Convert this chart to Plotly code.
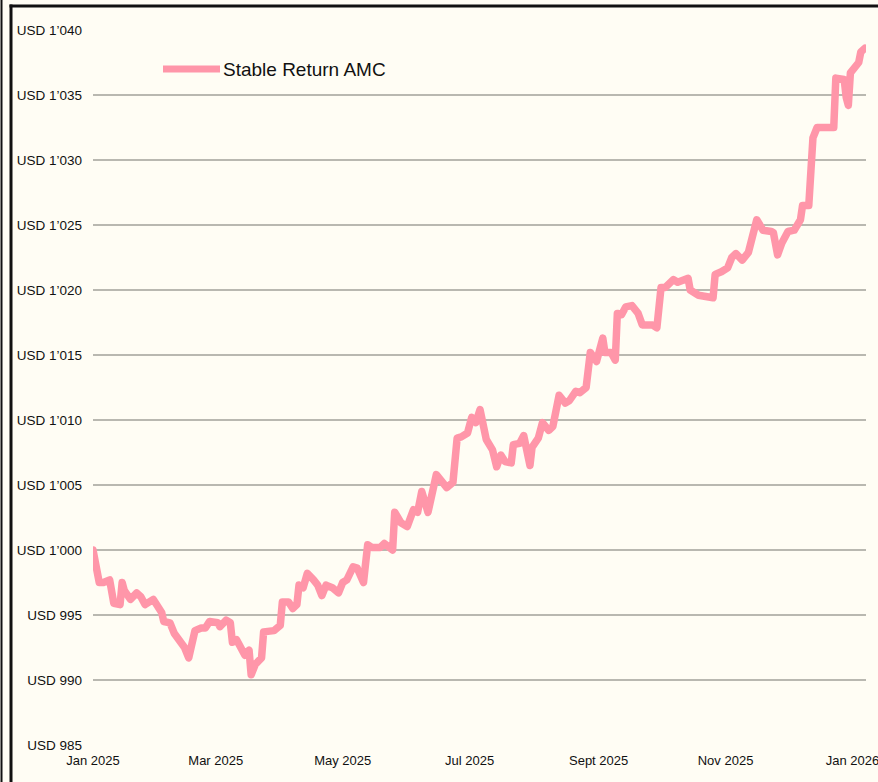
import plotly.graph_objects as go

series_name = "Stable Return AMC"

dates = [
    "2025-01-01", "2025-01-04", "2025-01-06", "2025-01-09", "2025-01-11", "2025-01-14",
    "2025-01-15", "2025-01-16", "2025-01-19", "2025-01-22", "2025-01-24", "2025-01-26",
    "2025-01-30", "2025-02-01", "2025-02-03", "2025-02-04", "2025-02-07", "2025-02-09",
    "2025-02-11", "2025-02-12", "2025-02-14", "2025-02-16", "2025-02-19", "2025-02-22",
    "2025-02-24", "2025-02-26", "2025-03-02", "2025-03-03", "2025-03-06", "2025-03-08",
    "2025-03-09", "2025-03-11", "2025-03-14", "2025-03-15", "2025-03-17", "2025-03-18",
    "2025-03-20", "2025-03-23", "2025-03-24", "2025-03-27", "2025-03-29", "2025-04-01",
    "2025-04-02", "2025-04-05", "2025-04-07", "2025-04-09", "2025-04-10", "2025-04-12",
    "2025-04-14", "2025-04-17", "2025-04-19", "2025-04-21", "2025-04-23", "2025-04-26",
    "2025-04-29", "2025-05-01", "2025-05-03", "2025-05-06", "2025-05-08", "2025-05-11",
    "2025-05-13", "2025-05-15", "2025-05-19", "2025-05-21", "2025-05-25", "2025-05-26",
    "2025-05-29", "2025-06-01", "2025-06-04", "2025-06-06", "2025-06-08", "2025-06-11",
    "2025-06-12", "2025-06-15", "2025-06-18", "2025-06-20", "2025-06-23", "2025-06-25",
    "2025-06-27", "2025-06-30", "2025-07-02", "2025-07-04", "2025-07-06", "2025-07-09",
    "2025-07-12", "2025-07-14", "2025-07-16", "2025-07-18", "2025-07-21", "2025-07-22",
    "2025-07-25", "2025-07-27", "2025-07-30", "2025-07-31", "2025-08-03", "2025-08-05",
    "2025-08-08", "2025-08-10", "2025-08-13", "2025-08-16", "2025-08-18", "2025-08-21",
    "2025-08-23", "2025-08-26", "2025-08-28", "2025-08-31", "2025-09-03", "2025-09-04",
    "2025-09-07", "2025-09-09", "2025-09-10", "2025-09-12", "2025-09-14", "2025-09-17",
    "2025-09-20", "2025-09-22", "2025-09-25", "2025-09-27", "2025-09-29", "2025-10-01",
    "2025-10-03", "2025-10-07", "2025-10-09", "2025-10-14", "2025-10-15", "2025-10-19",
    "2025-10-26", "2025-10-27", "2025-10-30", "2025-11-02", "2025-11-04", "2025-11-06",
    "2025-11-09", "2025-11-12", "2025-11-16", "2025-11-19", "2025-11-23", "2025-11-24",
    "2025-11-26", "2025-11-28", "2025-12-01", "2025-12-04", "2025-12-07", "2025-12-08",
    "2025-12-11", "2025-12-13", "2025-12-15", "2025-12-18", "2025-12-23", "2025-12-24",
    "2025-12-28", "2025-12-29", "2025-12-30", "2025-12-31", "2026-01-01", "2026-01-04",
    "2026-01-05", "2026-01-07",
]

values = [
    1000.0, 997.5, 997.5, 997.7, 995.9, 995.8,
    997.5, 996.9, 996.2, 996.7, 996.4, 995.8,
    996.2, 995.8, 995.2, 994.5, 994.4, 993.6,
    993.2, 992.8, 992.5, 991.7, 993.8, 994.0,
    994.0, 994.5, 994.4, 994.1, 994.6, 994.4,
    992.9, 993.1, 992.3, 991.9, 992.3, 990.4,
    991.2, 991.7, 993.7, 993.8, 993.8, 994.2,
    996.0, 996.0, 995.5, 995.8, 997.3, 997.1,
    998.2, 997.7, 997.3, 996.5, 997.3, 997.1,
    996.7, 997.5, 997.7, 998.7, 998.6, 997.5,
    1000.4, 1000.2, 1000.2, 1000.5, 1000.0, 1002.9,
    1002.1, 1001.8, 1003.1, 1002.9, 1004.5, 1002.9,
    1003.8, 1005.8, 1005.2, 1004.8, 1005.2, 1008.6,
    1008.7, 1009.0, 1010.2, 1009.8, 1010.8, 1008.5,
    1007.7, 1006.4, 1007.3, 1006.8, 1006.7, 1008.1,
    1008.2, 1008.8, 1006.5, 1007.9, 1008.6, 1009.8,
    1009.2, 1009.5, 1011.9, 1011.3, 1011.5, 1012.2,
    1012.1, 1012.5, 1015.2, 1014.5, 1016.3, 1015.2,
    1015.2, 1014.6, 1018.2, 1018.1, 1018.7, 1018.8,
    1018.2, 1017.3, 1017.3, 1017.3, 1017.1, 1020.2,
    1020.2, 1020.8, 1020.6, 1020.9, 1020.0, 1019.6,
    1019.4, 1021.2, 1021.4, 1021.7, 1022.5, 1022.8,
    1022.3, 1022.9, 1025.4, 1024.6, 1024.5, 1024.4,
    1022.7, 1023.6, 1024.5, 1024.6, 1025.4, 1026.5,
    1026.5, 1031.7, 1032.5, 1032.5, 1032.5, 1036.3,
    1036.2, 1034.8, 1034.2, 1036.7, 1036.9, 1037.5,
    1038.3, 1038.6,
]

y_tick_values = [985, 990, 995, 1000, 1005, 1010, 1015, 1020, 1025, 1030, 1035, 1040]
y_tick_labels = ["USD 985", "USD 990", "USD 995", "USD 1’000", "USD 1’005", "USD 1’010",
                 "USD 1’015", "USD 1’020", "USD 1’025", "USD 1’030", "USD 1’035", "USD 1’040"]

x_tick_values = ["2025-01-01", "2025-03-01", "2025-05-01", "2025-07-01",
                 "2025-09-01", "2025-11-01", "2026-01-01"]
x_tick_labels = ["Jan 2025", "Mar 2025", "May 2025", "Jul 2025",
                 "Sept 2025", "Nov 2025", "Jan 2026"]

LINE_COLOR = "#ff96a9"
BG = "#fffdf4"
FONT = "Liberation Sans, Arial, sans-serif"

W, H = 878, 782
ML, MR, MT, MB = 93, 12, 30, 37
PW, PH = W - ML - MR, H - MT - MB


def px_x(p):
    return (p - ML) / PW


def px_y(p):
    return (H - MB - p) / PH


fig = go.Figure()
fig.add_trace(go.Scatter(
    x=dates, y=values, mode="lines", name=series_name,
    line=dict(color=LINE_COLOR, width=7.5), showlegend=False,
))

fig.update_layout(
    width=W, height=H,
    margin=dict(l=ML, r=MR, t=MT, b=MB, autoexpand=False),
    paper_bgcolor=BG, plot_bgcolor=BG,
    font=dict(family=FONT, size=13.5, color="#111111"),
    xaxis=dict(
        type="date", range=["2025-01-01", "2026-01-07 12:00"],
        tickvals=x_tick_values, ticktext=x_tick_labels,
        showgrid=False, zeroline=False, showline=False,
        ticks="", ticklabelstandoff=6, ticklabeloverflow="allow",
        tickfont=dict(family=FONT, size=13, color="#111111"),
    ),
    yaxis=dict(
        range=[985, 1040],
        tickvals=y_tick_values, ticktext=y_tick_labels,
        showgrid=True, gridcolor="#b9b8b0", gridwidth=1.5,
        zeroline=False, showline=False, ticks="", ticklabelstandoff=10,
        tickfont=dict(family=FONT, size=13.5, color="#111111"),
    ),
    shapes=[
        dict(type="line", xref="paper", yref="paper",
             x0=px_x(163), x1=px_x(220), y0=px_y(69), y1=px_y(69),
             line=dict(color=LINE_COLOR, width=7)),
        dict(type="line", xref="paper", yref="paper",
             x0=px_x(1.5), x1=px_x(1.5), y0=px_y(0), y1=px_y(782),
             line=dict(color="#111111", width=2)),
        dict(type="line", xref="paper", yref="paper",
             x0=px_x(11), x1=px_x(11), y0=px_y(4.5), y1=px_y(782),
             line=dict(color="#111111", width=3)),
        dict(type="line", xref="paper", yref="paper",
             x0=px_x(9.5), x1=px_x(878), y0=px_y(6), y1=px_y(6),
             line=dict(color="#111111", width=3)),
    ],
    annotations=[
        dict(text=series_name, xref="paper", yref="paper",
             x=px_x(221), y=px_y(69), xanchor="left", yanchor="middle",
             showarrow=False, font=dict(family=FONT, size=19, color="#111111")),
    ],
)

post = """
document.body.style.margin = '0';
document.body.style.background = '%s';
document.querySelectorAll('.scatterlayer .js-line').forEach(function(p) {
  p.style.strokeLinejoin = 'round';
  p.style.strokeLinecap = 'round';
});
""" % BG

fig.write_html("out.html", post_script=post, config={"displayModeBar": False})
